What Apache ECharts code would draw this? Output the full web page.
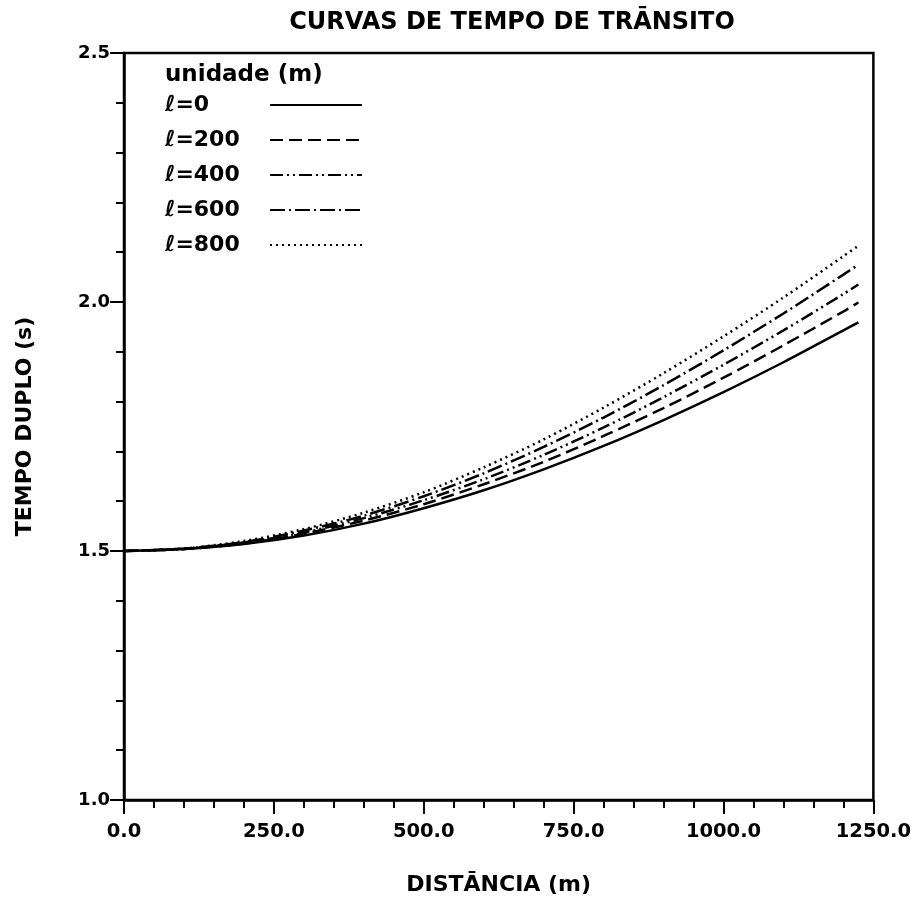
<!DOCTYPE html>
<html>
<head>
<meta charset="utf-8">
<script src="https://cdn.jsdelivr.net/npm/echarts@6/dist/echarts.min.js"></script>
<style>
html,body{margin:0;padding:0;background:#fff;}
#chart{width:914px;height:901px;}
</style>
</head>
<body>
<div id="chart"></div>
<script>
// Distance (m) sample positions along the curves
const distancias = [0, 100, 200, 300, 400, 500, 600, 700, 800, 900, 1000, 1100, 1200, 1225];
// Two-way travel time (s), one array per layer value
const tempoL0   = [1.500, 1.504, 1.514, 1.531, 1.555, 1.586, 1.622, 1.664, 1.711, 1.763, 1.819, 1.879, 1.943, 1.959];
const tempoL200 = [1.500, 1.504, 1.515, 1.535, 1.561, 1.594, 1.634, 1.679, 1.731, 1.787, 1.848, 1.913, 1.981, 1.999];
const tempoL400 = [1.500, 1.504, 1.517, 1.537, 1.566, 1.602, 1.644, 1.693, 1.748, 1.809, 1.874, 1.943, 2.016, 2.035];
const tempoL600 = [1.500, 1.505, 1.518, 1.541, 1.571, 1.610, 1.656, 1.709, 1.768, 1.833, 1.903, 1.977, 2.055, 2.075];
const tempoL800 = [1.500, 1.505, 1.520, 1.544, 1.577, 1.618, 1.668, 1.724, 1.788, 1.857, 1.931, 2.009, 2.092, 2.113];
const seriesNames = ['ℓ=0', 'ℓ=200', 'ℓ=400', 'ℓ=600', 'ℓ=800'];

const titulo = 'CURVAS DE TEMPO DE TRĀNSITO';
const tituloLegenda = 'unidade (m)';
const nomeX = 'DISTĀNCIA (m)';
const nomeY = 'TEMPO DUPLO (s)';

const allTimes = [tempoL0, tempoL200, tempoL400, tempoL600, tempoL800];
const dashTypes = ['solid', [13, 6], [13, 4, 2, 4, 2, 4], [15, 4, 2, 4], [2, 4]];

const FONT = '"DejaVu Sans", sans-serif';

const chart = echarts.init(document.getElementById('chart'), null, {renderer: 'canvas'});

const series = allTimes.map((arr, i) => ({
  name: seriesNames[i],
  type: 'line',
  smooth: 0.3,
  symbol: 'none',
  showSymbol: false,
  data: distancias.map((d, j) => [d, arr[j]]),
  lineStyle: {color: '#000', width: 2.5, type: dashTypes[i]},
  itemStyle: {color: '#000'},
  z: 3
}));

chart.setOption({
  animation: false,
  backgroundColor: '#fff',
  grid: {left: 124, right: 37, top: 53, bottom: 101, show: true, borderColor: '#000', borderWidth: 2.5},
  xAxis: {
    type: 'value', min: 0, max: 1250, interval: 250,
    name: nomeX, nameLocation: 'middle', nameGap: 74,
    nameTextStyle: {fontFamily: FONT, fontSize: 22, fontWeight: 'bold', color: '#000'},
    axisLine: {show: true, lineStyle: {color: '#000', width: 2.5}},
    axisTick: {show: true, length: 14, lineStyle: {color: '#000', width: 2}},
    minorTick: {show: true, splitNumber: 5, length: 8, lineStyle: {color: '#000', width: 2}},
    splitLine: {show: false},
    axisLabel: {margin: 22, fontFamily: FONT, fontSize: 19.5, fontWeight: 'bold', color: '#000',
      formatter: v => v.toFixed(1)}
  },
  yAxis: {
    type: 'value', min: 1.0, max: 2.5, interval: 0.5,
    name: nomeY, nameLocation: 'middle', nameGap: 88, nameRotate: 90,
    nameTextStyle: {fontFamily: FONT, fontSize: 22, fontWeight: 'bold', color: '#000'},
    axisLine: {show: true, lineStyle: {color: '#000', width: 2.5}},
    axisTick: {show: true, length: 14, lineStyle: {color: '#000', width: 2}},
    minorTick: {show: true, splitNumber: 5, length: 8, lineStyle: {color: '#000', width: 2}},
    splitLine: {show: false},
    axisLabel: {margin: 14, fontFamily: FONT, fontSize: 18, fontWeight: 'bold', color: '#000',
      formatter: v => v.toFixed(1)}
  },
  legend: {
    orient: 'vertical', left: 160, top: 89, align: 'right',
    itemGap: 13, itemWidth: 92, itemHeight: 22,
    selectedMode: false,
    data: seriesNames,
    itemStyle: {opacity: 0},
    formatter: name => '{a|' + name + '}',
    textStyle: {
      fontFamily: FONT, fontSize: 22, fontWeight: 'bold', color: '#000', lineHeight: 22,
      rich: {a: {width: 100, align: 'left', fontFamily: FONT, fontSize: 22, fontWeight: 'bold', color: '#000', lineHeight: 22}}
    }
  },
  graphic: [
    {type: 'text', x: 512, y: 23, style: {text: titulo, font: 'bold 24px ' + FONT, fill: '#000', textAlign: 'center', textVerticalAlign: 'middle'}},
    {type: 'text', x: 165, y: 75, style: {text: tituloLegenda, font: 'bold 23px ' + FONT, fill: '#000', textAlign: 'left', textVerticalAlign: 'middle'}}
  ],
  series: series
});
</script>
</body>
</html>
